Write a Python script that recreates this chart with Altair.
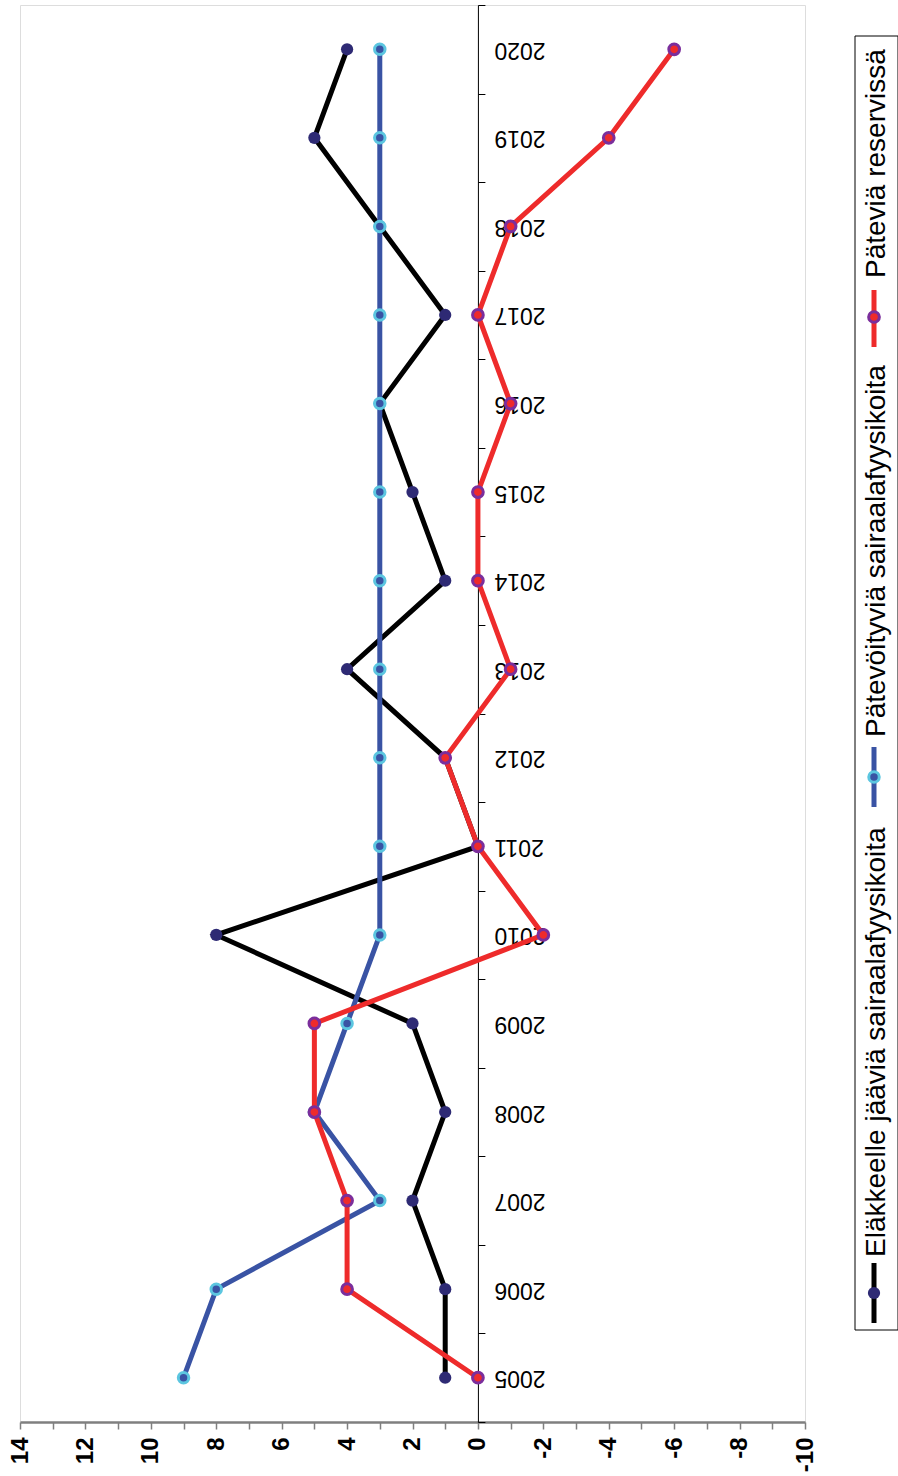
import altair as alt
import pandas as pd

# ---- data ----
years = list(range(2005, 2021))
series_names = [
    "Eläkkeelle jääviä sairaalafyysikoita",
    "Pätevöityviä sairaalafyysikoita",
    "Päteviä reservissä",
]
retiring = [1, 1, 2, 1, 2, 8, 0, 1, 4, 1, 2, 3, 1, 3, 5, 4]
qualifying = [9, 8, 3, 5, 4, 3, 3, 3, 3, 3, 3, 3, 3, 3, 3, 3]
reserve = [0, 4, 4, 5, 5, -2, 0, 1, -1, 0, 0, -1, 0, -1, -4, -6]
value_ticks = list(range(-10, 15))

# ---- styles ----
line_colors = ["#000000", "#3953a4", "#ee2b2b"]
point_fill = ["#2e2a74", "#3953a4", "#ee2b2b"]
point_stroke = ["#2e2a74", "#5cc6e0", "#7b2e9c"]
point_stroke_w = [0, 3, 3]
point_size = [150, 110, 115]
FONT = "Liberation Sans"

W, H = 785, 1417
zero_px = W * 14 / 24.0

all_series = [retiring, qualifying, reserve]
frames = []
for name, vals in zip(series_names, all_series):
    frames.append(pd.DataFrame({"year": years, "value": vals, "series": name}))
df = pd.concat(frames, ignore_index=True)

x_enc = alt.X(
    "value:Q",
    scale=alt.Scale(domain=[-10, 14], reverse=True, nice=False, zero=False),
    axis=alt.Axis(
        values=value_ticks,
        labelExpr="datum.value % 2 == 0 ? toString(datum.value) : ''",
        labelAngle=270, labelAlign="right", labelBaseline="middle",
        labelFontSize=24, labelFontWeight="bold", labelFont=FONT,
        labelColor="black", labelPadding=8, tickSize=7,
        tickColor="#7f7f7f", tickWidth=1.5, domainColor="#7f7f7f",
        domainWidth=2.5, grid=False, title=None, labelOverlap=False,
    ),
)
y_enc = alt.Y(
    "year:O",
    sort="descending",
    bandPosition=0.5,
    scale=alt.Scale(type="band", paddingInner=0, paddingOuter=0),
    axis=alt.Axis(
        orient="right", offset=-(W - zero_px), tickBand="extent",
        labelAngle=180, labelAlign="right", labelBaseline="middle",
        labelFontSize=23, labelFont=FONT, labelColor="black",
        labelPadding=9, tickSize=7, tickColor="black", tickWidth=1,
        domainColor="black", domainWidth=1, title=None, grid=False,
        labelOverlap=False,
    ),
)

layers = []
for i, name in enumerate(series_names):
    base = alt.Chart(df).transform_filter(alt.datum.series == name)
    layers.append(
        base.mark_line(color=line_colors[i], strokeWidth=5).encode(x=x_enc, y=y_enc)
    )
    layers.append(
        base.mark_point(
            filled=True, shape="circle", size=point_size[i], fill=point_fill[i],
            stroke=point_stroke[i], strokeWidth=point_stroke_w[i], opacity=1,
        ).encode(x=x_enc, y=y_enc)
    )

# ---- legend (drawn manually, rotated) ----
leg_data = alt.Data(values=[{"k": 0}])
layers.insert(0, alt.Chart(leg_data).mark_rect(fill="white", stroke="black", strokeWidth=1).encode(
    x=alt.value(835), x2=alt.value(878), y=alt.value(31), y2=alt.value(1325)))

leg_sym_x = 854
leg_line_y = [(1258, 1318), (742, 802), (285, 342)]
leg_mark_y = [1288, 772, 312]
leg_text_y = [1252, 732, 273]
for i, name in enumerate(series_names):
    d = alt.Data(values=[{"label": name}])
    layers.append(alt.Chart(d).mark_rule(color=line_colors[i], strokeWidth=5).encode(
        x=alt.value(leg_sym_x), y=alt.value(leg_line_y[i][0]), y2=alt.value(leg_line_y[i][1])))
    layers.append(alt.Chart(d).mark_point(
        filled=True, shape="circle", size=point_size[i], fill=point_fill[i],
        stroke=point_stroke[i], strokeWidth=point_stroke_w[i], opacity=1).encode(
        x=alt.value(leg_sym_x), y=alt.value(leg_mark_y[i])))
    layers.append(alt.Chart(d).mark_text(
        angle=270, align="left", baseline="alphabetic", font=FONT, fontSize=28,
        color="black").encode(
        x=alt.value(865), y=alt.value(leg_text_y[i]), text="label:N"))

chart = alt.layer(*layers).properties(
    width=W, height=H,
    autosize=alt.AutoSizeParams(type="none"),
    padding={"left": 20, "top": 5, "right": 93, "bottom": 54},
).configure_view(stroke="#7f7f7f", strokeWidth=2.5).configure(background="white")

chart.save("out.html", embed_options={"renderer": "svg", "actions": False})
